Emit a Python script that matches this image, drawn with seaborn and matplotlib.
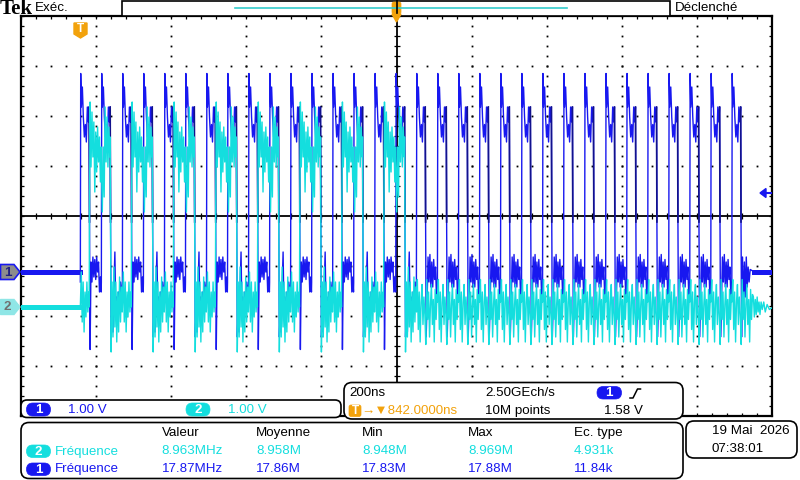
import matplotlib
matplotlib.use("Agg")
import matplotlib.pyplot as plt
import numpy as np
import pandas as pd
import seaborn as sns
from matplotlib.patches import FancyBboxPatch, Polygon

time_per_div_ns = 200.0
trigger_delay_ns = 842.0          # time at screen centre
ch1_ground_div = -1.12            # channel markers (divisions from centre)
ch2_ground_div = -1.82
volts_per_div = 1.0
trigger_level_v = 1.58

# rising edges of channel 1 (ns after trigger)
ch1_rise_ns = [0, 56, 112, 168, 224, 280, 336, 392, 448, 504, 560, 616, 672, 728, 784, 840,
               895, 951, 1007, 1063, 1119, 1175, 1231, 1287, 1343, 1399, 1455, 1511, 1567,
               1623, 1679, 1735]
n_burst_pulses = 16               # channel 2 toggles during the first 16 pulses

# pulse shapes (ns from the rising edge, volts)
ch1_high = [(0, -0.2), (1, 3.97), (2.7, 3.3), (5.4, 3.7), (8, 3.1), (10.7, 2.7), (13.4, 2.95),
            (16, 2.6), (18.7, 3.3), (21.4, 3.0), (23.5, 3.3)]
ch1_low_a = [(24.5, 1.0), (26, -1.55), (28.5, 0.2), (31, -0.2), (33.5, 0.3), (36, -0.1),
             (38.5, 0.25), (41, -0.15), (43.5, 0.3), (46, 0.0), (48.5, 0.2), (51, -0.4),
             (53.5, -0.1), (55.5, -0.4)]
ch1_low_b = [(24.5, 1.0), (26, -1.3), (28.5, -0.7), (31, -1.2), (33.5, -0.3), (36, 0.4),
             (38.5, -0.9), (41, -0.5), (43.5, -1.0), (46, -0.4), (48.5, -0.8), (51, -0.2),
             (53.5, -0.6), (55.5, -0.3)]
ch1_low_c = [(24.5, 1.0), (26, -1.3), (28.5, -0.6), (31, 0.3), (33.5, -0.2), (36, 0.35),
             (38.5, -0.3), (41, 0.2), (43.5, -0.3), (46, 0.25), (48.5, -0.15), (51, 0.1),
             (53.5, -0.5), (55.5, -0.3)]
ch1_tail = [(24.5, 1.0), (26, -1.3), (28.5, 0.3), (31, -0.7), (33.5, 0.2), (36, -0.5),
            (38.5, 0.3), (41, -0.3), (43.5, 0.1), (46, -0.2), (49, 0.05), (60, 0.0)]
ch1_fall = [(23.5, 3.3), (24.5, 1.0)]          # darker falling-edge stroke

ch2_low_pre = [(0, 0.0), (2.5, 0.7), (5, -0.3), (7.5, 0.5), (10, -0.5), (12.5, 0.3),
               (15, -0.2), (17.5, 0.5), (20, -0.1), (22.5, 0.3), (23.5, 0.0)]
ch2_high_start = [(24.5, 2.0), (26, 4.1), (28.5, 2.8), (31, 3.9), (33.5, 3.0), (36, 3.7),
                  (38.5, 2.3), (41, 3.5), (43.5, 2.7), (46, 3.6), (48.5, 2.9), (51, 3.4),
                  (53.5, 2.5), (55.5, 3.2)]
ch2_high_end = [(0, 3.0), (2.5, 1.9), (5, 3.2), (7.5, 2.2), (10, 4.0), (12.5, 2.9),
                (15, 3.8), (17.5, 2.8), (20, 3.6), (22.5, 3.0), (23.5, 3.4)]
ch2_low_start = [(24.5, 1.5), (26, -0.9), (28.5, 0.5), (31, -0.6), (33.5, 0.8), (36, -0.4),
                 (38.5, 0.5), (41, -0.7), (43.5, 0.3), (46, -0.5), (48.5, 0.6), (51, -0.3),
                 (53.5, 0.4), (55.5, -0.1)]
ch2_noise = [(0, 0.1), (2.5, 0.55), (5, -0.45), (7.5, 0.3), (10, -0.7), (12.5, 0.1),
             (15, 0.45), (17.5, -0.35), (20, 0.2), (22.5, -0.15), (25, -0.75), (27.5, 0.55),
             (30, -0.25), (32.5, 0.3), (35, -0.6), (37.5, 0.05), (40, 0.45), (42.5, -0.35),
             (45, 0.15), (47.5, -0.7), (50, 0.35), (52.5, -0.25), (55, 0.25)]
ch2_tail = [(57.5, 0.2), (60, -0.2), (62.5, 0.15), (65, -0.15), (67.5, 0.2), (70, -0.1),
            (72.5, 0.1), (75, -0.15), (78, 0.1), (81, -0.05), (85, 0.1), (89, -0.1),
            (94, 0.05), (100, -0.05), (110, 0.0)]

ch1_idle_spans = [(-160, 0), (1795, 1845)]
ch2_idle_spans = [(-160, 0)]

# measurement table
meas_headers = ["Valeur", "Moyenne", "Min", "Max", "Ec. type"]
meas_ch2 = ["8.963MHz", "8.958M", "8.948M", "8.969M", "4.931k"]
meas_ch1 = ["17.87MHz", "17.86M", "17.83M", "17.88M", "11.84k"]

C1 = "#1818F0"
C1_DARK = "#12128C"
C2 = "#14DEDE"
ORANGE = "#F2A20C"
FONT = ["Liberation Sans", "DejaVu Sans"]
FS = 9.6

# ---------------- build traces ----------------
def add(ts, vs, tpl, t0):
    for dt, v in tpl:
        ts.append(t0 + dt)
        vs.append(v)

t1, v1, t2, v2 = [], [], [], []
fall_rows = []
last = len(ch1_rise_ns) - 1
for i, r in enumerate(ch1_rise_ns):
    add(t1, v1, ch1_high, r)
    if i == last:
        low = ch1_tail
    elif i < n_burst_pulses:
        low = ch1_low_a if i % 2 == 0 else ch1_low_b
    else:
        low = ch1_low_c
    add(t1, v1, low, r)
    for dt, v in ch1_fall:
        fall_rows.append((r + dt, v / volts_per_div + ch1_ground_div, i))
    if i < n_burst_pulses:
        if i % 2 == 0:
            add(t2, v2, ch2_low_pre, r)
            add(t2, v2, ch2_high_start, r)
        else:
            add(t2, v2, ch2_high_end, r)
            add(t2, v2, ch2_low_start, r)
    else:
        add(t2, v2, ch2_noise, r)
        if i == last:
            add(t2, v2, ch2_tail, r)

df = pd.concat([
    pd.DataFrame({"t": t1, "y": np.array(v1) / volts_per_div + ch1_ground_div, "ch": "1"}),
    pd.DataFrame({"t": t2, "y": np.array(v2) / volts_per_div + ch2_ground_div, "ch": "2"}),
], ignore_index=True)
falls = pd.DataFrame(fall_rows, columns=["t", "y", "pulse"])

idle_rows = []
for k, (a, b) in enumerate(ch1_idle_spans):
    idle_rows += [(a, ch1_ground_div, "1", f"1-{k}"), (b, ch1_ground_div, "1", f"1-{k}")]
for k, (a, b) in enumerate(ch2_idle_spans):
    idle_rows += [(a, ch2_ground_div, "2", f"2-{k}"), (b, ch2_ground_div, "2", f"2-{k}")]
idle = pd.DataFrame(idle_rows, columns=["t", "y", "ch", "seg"])

# ---------------- figure ----------------
fig = plt.figure(figsize=(8, 4.8), dpi=100)
fig.patch.set_facecolor("white")
ax = fig.add_axes([21 / 800, 64 / 480, 751 / 800, 400 / 480])
x0 = trigger_delay_ns - 5 * time_per_div_ns
x1 = trigger_delay_ns + 5 * time_per_div_ns
ax.set_xlim(x0, x1)
ax.set_ylim(-4, 4)
ax.set_xticks([]); ax.set_yticks([])
for s in ax.spines.values():
    s.set_color("black"); s.set_linewidth(1.6)

# graticule
minor_x = np.arange(x0, x1 + 1e-6, time_per_div_ns / 5)
minor_y = np.arange(-4, 4.0001, 0.2)
div_x = [trigger_delay_ns + k * time_per_div_ns for k in (-4, -3, -2, -1, 1, 2, 3, 4)]
div_y = [-3, -2, -1, 1, 2, 3]
gx, gy = [], []
for xv in div_x:
    gx += [xv] * len(minor_y); gy += list(minor_y)
for yv in div_y:
    gx += list(minor_x); gy += [yv] * len(minor_x)
ax.plot(gx, gy, "s", ms=1.3, mew=0, color="black", zorder=1)
ax.axhline(0, color="black", lw=1.3, zorder=1)
ax.axvline(trigger_delay_ns, color="black", lw=1.3, zorder=1)
ax.plot(minor_x, [0] * len(minor_x), "|", ms=4, mew=0.9, color="black", zorder=1)
ax.plot([trigger_delay_ns] * len(minor_y), minor_y, "_", ms=4, mew=0.9, color="black", zorder=1)
for yb in (-4, 4):
    ax.plot(minor_x, [yb] * len(minor_x), "|", ms=5, mew=0.9, color="black", zorder=1)
for xb in (x0, x1):
    ax.plot([xb] * len(minor_y), minor_y, "_", ms=5, mew=0.9, color="black", zorder=1)

sns.lineplot(data=idle, x="t", y="y", hue="ch", units="seg", estimator=None, sort=False,
             palette={"1": C1, "2": C2}, hue_order=["1", "2"], lw=3.6, legend=False, ax=ax,
             zorder=3)
sns.lineplot(data=df[df.ch == "1"], x="t", y="y", color=C1, estimator=None, sort=False,
             lw=1.0, legend=False, ax=ax, zorder=3)
sns.lineplot(data=falls, x="t", y="y", units="pulse", color=C1_DARK, estimator=None,
             sort=False, lw=1.2, legend=False, ax=ax, zorder=3)
sns.lineplot(data=df[df.ch == "2"], x="t", y="y", color=C2, estimator=None, sort=False,
             lw=1.0, legend=False, ax=ax, zorder=3)
ax.set_xlabel(""); ax.set_ylabel("")

# ---------------- overlay (screen furniture) ----------------
ov = fig.add_axes([0, 0, 1, 1], zorder=5)
ov.set_xlim(0, 800); ov.set_ylim(480, 0)
ov.axis("off")
ov.patch.set_alpha(0)

def rbox(x, y, w, h, r=7, fc="white", ec="black", lw=1.2):
    ov.add_patch(FancyBboxPatch((x, y), w, h, boxstyle=f"round,pad=0,rounding_size={r}",
                                fc=fc, ec=ec, lw=lw))

def badge(x, y, w, h, label, fc, tc="white"):
    rbox(x, y, w, h, r=h / 2, fc=fc, ec=fc, lw=0.5)
    ov.text(x + w / 2, y + h / 2 + 0.5, label, color=tc, fontsize=FS, fontweight="bold",
            ha="center", va="center", family=FONT)

def txt(x, y, s, color="black", size=FS, **kw):
    ov.text(x, y, s, color=color, fontsize=size, ha="left", va="center", family=FONT, **kw)

# top bar
ov.text(0, 9, "Tek", fontsize=15, fontweight="bold", family=["Liberation Serif", "DejaVu Serif"],
        ha="left", va="center", color="black")
txt(35, 8, "Exéc.")
txt(675, 8, "Déclenché")
ov.add_patch(plt.Rectangle((122, 0.5), 548, 15, fc="white", ec="black", lw=1.2))
ov.plot([235, 567], [7.5, 7.5], color="#33CCCC", lw=1.2)
# horizontal position marker
rbox(392, 2, 9, 12, r=2, fc=ORANGE, ec=ORANGE, lw=0.5)
ov.plot([396.5, 396.5], [0, 13], color="black", lw=1.2)
ov.add_patch(Polygon([(392, 14), (401, 14), (396.5, 22)], closed=True, fc=ORANGE, ec=ORANGE))
# trigger point marker
ov.add_patch(Polygon([(74, 23), (87, 23), (87, 34), (80.5, 38), (74, 34)], closed=True,
                     fc=ORANGE, ec=ORANGE))
ov.text(80.5, 29.5, "T", color="white", fontsize=8.5, fontweight="bold", ha="center",
        va="center", family=FONT)

# channel ground markers
ov.add_patch(Polygon([(0.5, 264.5), (14, 264.5), (20, 272), (14, 279.5), (0.5, 279.5)],
                     closed=True, fc="#8C8C8C", ec=C1, lw=1.2))
ov.text(7.5, 272.5, "1", color="#202080", fontsize=FS, fontweight="bold", ha="center",
        va="center", family=FONT)
ov.add_patch(Polygon([(0.5, 299.5), (14, 299.5), (20, 307), (14, 314.5), (0.5, 314.5)],
                     closed=True, fc="#8FE6E6", ec="#8FE6E6", lw=1.0))
ov.text(7.5, 307.5, "2", color="#707070", fontsize=FS, fontweight="bold", ha="center",
        va="center", family=FONT)

# trigger level arrow (right edge)
trig_y = 216 - (trigger_level_v / volts_per_div + ch1_ground_div) * 50
ov.add_patch(Polygon([(760, trig_y), (766, trig_y - 4.5), (766, trig_y + 4.5)], closed=True,
                     fc=C1, ec=C1))
ov.plot([766, 771], [trig_y, trig_y], color=C1, lw=1.5)

# box A : vertical scales
rbox(21, 400, 320, 17.5, r=6)
badge(26.5, 403, 24, 13, "1", C1)
txt(68, 410, "1.00 V", color=C1)
badge(186, 403, 24, 13, "2", C2)
txt(228, 410, "1.00 V", color=C2)

# box B : horizontal / trigger
rbox(344, 382.5, 339, 36.5, r=8)
txt(349, 393, "200ns")
txt(485, 393, "2.50GEch/s")
badge(597, 386.5, 24.5, 12.5, "1", C1)
ov.plot([630, 633, 637.5, 640.5], [398, 398, 389, 389], color="black", lw=1.1)
rbox(349, 405, 12, 11.5, r=2, fc=ORANGE, ec=ORANGE, lw=0.5)
ov.text(355, 410.8, "T", color="white", fontsize=8.5, fontweight="bold", ha="center",
        va="center", family=FONT)
txt(361.5, 410.5, "→▼842.0000ns", color=ORANGE)
txt(485, 411, "10M points")
txt(604, 411, "1.58 V")

# box C : measurements
rbox(21, 422.5, 662, 56, r=8)
col_x = [161.5, 256, 362, 468, 574]
for cx, h in zip(col_x, meas_headers):
    txt(cx, 433, h)
badge(26.5, 445, 24, 12.5, "2", C2)
txt(55, 451.5, "Fréquence", color=C2)
badge(26.5, 463, 24, 12.5, "1", C1)
txt(55, 469, "Fréquence", color=C1)
for cx, a, b in zip(col_x, meas_ch2, meas_ch1):
    txt(cx, 451.5, a, color=C2)
    txt(cx, 469, b, color=C1)

# box D : date
rbox(686, 421, 111, 37, r=8)
txt(712, 431, "19 Mai  2026")
txt(712, 449, "07:38:01")

fig.savefig("out.png", dpi=100, facecolor="white")
